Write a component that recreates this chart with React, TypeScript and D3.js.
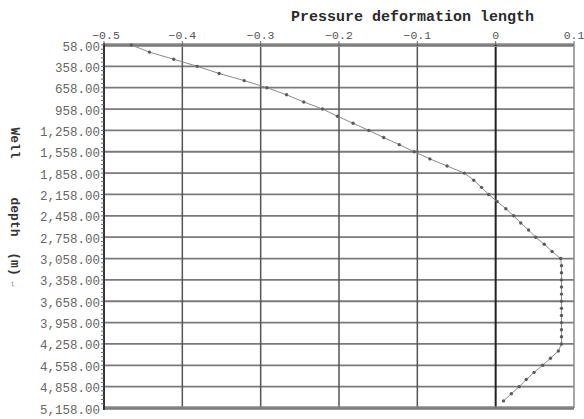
import React from "react";
import * as d3 from "d3";

const depthTicks = [58, 358, 658, 958, 1258, 1558, 1858, 2158, 2458, 2758, 3058, 3358, 3658, 3958, 4258, 4558, 4858, 5158];
const xTicks = [-0.5, -0.4, -0.3, -0.2, -0.1, 0, 0.1];
const depths = [58, 158, 258, 358, 458, 558, 658, 758, 858, 958, 1058, 1158, 1258, 1358, 1458, 1558, 1658, 1758, 1858, 1958, 2058, 2158, 2258, 2358, 2458, 2558, 2658, 2758, 2858, 2958, 3058, 3158, 3258, 3358, 3458, 3558, 3658, 3758, 3858, 3958, 4058, 4158, 4258, 4358, 4458, 4558, 4658, 4758, 4858, 4958, 5058];
const deformation = [-0.465, -0.442, -0.411, -0.381, -0.353, -0.321, -0.292, -0.267, -0.245, -0.221, -0.202, -0.182, -0.162, -0.143, -0.123, -0.104, -0.084, -0.062, -0.04, -0.028, -0.018, -0.009, 0.002, 0.013, 0.023, 0.032, 0.042, 0.051, 0.062, 0.072, 0.083, 0.084, 0.084, 0.084, 0.084, 0.084, 0.084, 0.084, 0.084, 0.084, 0.084, 0.084, 0.084, 0.08, 0.07, 0.06, 0.049, 0.039, 0.03, 0.02, 0.01];

const W = 584, H = 419;
const L = 104, R = 574, T = 45, B = 408;

export default function App() {
  const x = d3.scaleLinear().domain([-0.5, 0.1]).range([L, R]);
  const y = d3.scaleLinear().domain([58, 5158]).range([T, B]);
  const fmtY = d3.format(",.2f");
  const minor = d3.range(58, 5158, 60);
  const line = d3.line<number>().x((d) => x(d)).y((_, i) => y(depths[i]));
  const mono = "'Liberation Mono', 'DejaVu Sans Mono', monospace";
  return (
    <svg width={W} height={H} style={{ position: "absolute", left: 0, top: 0, background: "#fff" }}>
      <rect x={0} y={0} width={W} height={H} fill="#fff" />
      {depthTicks.map((d) => (
        <line key={"h" + d} x1={L} x2={R} y1={y(d)} y2={y(d)} stroke="#7a7a7a" strokeWidth={1.8} />
      ))}
      {xTicks.map((v) => (
        <line key={"v" + v} x1={x(v)} x2={x(v)} y1={T} y2={B}
          stroke={v === 0 ? "#222" : v === 0.1 ? "#888" : "#555"}
          strokeWidth={v === 0 ? 2 : 1.5} />
      ))}
      <line x1={L} x2={R} y1={T - 1} y2={T - 1} stroke="#888" strokeWidth={1.5} />
      <line x1={L} x2={R} y1={T + 1.5} y2={T + 1.5} stroke="#999" strokeWidth={1.2} />
      <line x1={L} x2={R} y1={B - 1} y2={B - 1} stroke="#888" strokeWidth={1.5} />
      <line x1={L} x2={R} y1={B + 1.5} y2={B + 1.5} stroke="#999" strokeWidth={1.2} />
      <line x1={L} x2={L} y1={T - 2} y2={B + 2} stroke="#333" strokeWidth={2} />
      {minor.map((d) => (
        <line key={"m" + d} x1={L - 3} x2={L} y1={y(d)} y2={y(d)} stroke="#666" strokeWidth={1} />
      ))}
      {xTicks.map((v) => (
        <line key={"t" + v} x1={x(v)} x2={x(v)} y1={T - 4} y2={T} stroke="#666" strokeWidth={1} />
      ))}
      <path d={line(deformation) || ""} fill="none" stroke="#8a8a8a" strokeWidth={1} />
      {deformation.map((v, i) => (
        <circle key={"p" + i} cx={x(v)} cy={y(depths[i])} r={1.7} fill="#5a5a5a" />
      ))}
      {depthTicks.map((d) => (
        <text key={"yl" + d} x={100} y={y(d) + 5.5} textAnchor="end" fontFamily={mono} fontSize={12.5} fill="#666">
          {fmtY(d)}
        </text>
      ))}
      {xTicks.map((v) => (
        <text key={"xl" + v} x={x(v) + (v === -0.5 ? 2 : 0)} y={38.5} textAnchor="middle" fontFamily={mono} fontSize={11.5} fill="#555">
          {v === 0 ? "0" : String(v).replace("-", "−")}
        </text>
      ))}
      <text x={291} y={21} fontFamily={mono} fontSize={15} fontWeight="bold" fill="#2a2a2a">
        Pressure deformation length
      </text>
      <g transform="translate(11,0)" fontFamily={mono} fontSize={13} fontWeight="bold" fill="#333">
        <text transform="translate(0,143) rotate(90)" textAnchor="middle">Well</text>
        <text transform="translate(0,217) rotate(90)" textAnchor="middle">depth</text>
        <text transform="translate(0,264) rotate(90)" textAnchor="middle">(m)</text>
        <text transform="translate(0,284) rotate(90)" textAnchor="middle" fontSize={8} fill="#999" fontWeight="normal">↵</text>
      </g>
    </svg>
  );
}
